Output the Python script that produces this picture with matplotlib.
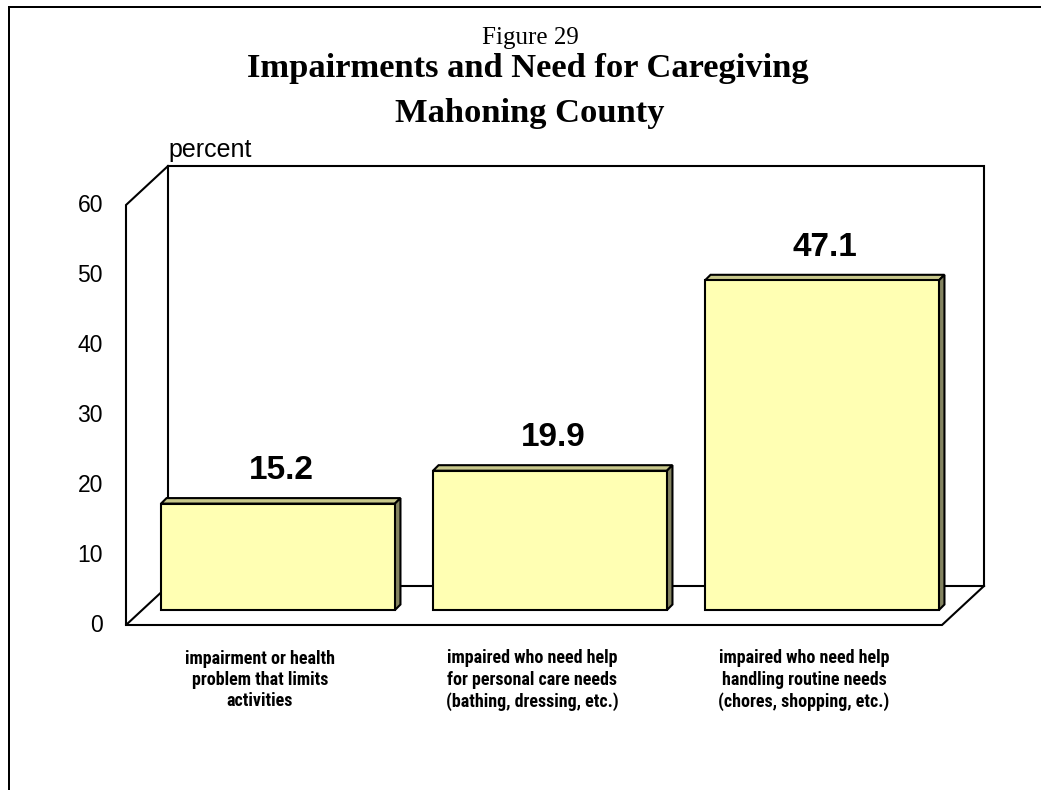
import matplotlib
matplotlib.use("Agg")
import matplotlib.pyplot as plt
from matplotlib.lines import Line2D
from matplotlib.patches import Polygon
from matplotlib import font_manager as fm

# ---- data ----
categories = [
    "impairment or health\nproblem that limits\nactivities",
    "impaired who need help\nfor personal care needs\n(bathing, dressing, etc.)",
    "impaired who need help\nhandling routine needs\n(chores, shopping, etc.)",
]
values = [15.2, 19.9, 47.1]
value_labels = ["15.2", "19.9", "47.1"]
yticks = [0, 10, 20, 30, 40, 50, 60]
title_small = "Figure 29"
title_main = "Impairments and Need for Caregiving\nMahoning County"
y_label = "percent"

# ---- style ----
W, H, DPI = 1041, 790, 100
FRONT = "#FFFFB3"
TOP = "#C8C88C"
SIDE = "#838360"
SANS = "Liberation Sans"
SERIF = "Liberation Serif"
LW = 1.5

# pick a narrow sans (like Arial Narrow) for the category labels
names = {f.name for f in fm.fontManager.ttflist}
prefs = [("Liberation Sans Narrow", 13.0), ("Arial Narrow", 13.0),
         ("Roboto Condensed", 13.0), ("Noto Sans Condensed", 12.5),
         ("Open Sans Condensed", 13.0), ("Noto Sans SemiCondensed", 12.0),
         ("Noto Sans ExtraCondensed", 14.0)]
cat_props = None
for nm, sz in prefs:
    if nm in names:
        cat_props = dict(family=nm, fontsize=sz, fontweight="bold", linespacing=1.3 * 13.0 / sz * 0.95)
        break
if cat_props is None:
    cat_props = dict(family=SANS, fontsize=11, linespacing=1.48, fontweight="bold")

fig = plt.figure(figsize=(W / DPI, H / DPI), dpi=DPI)
fig.patch.set_facecolor("white")

# axes = plane of the bar fronts (pixels: x 142..958, y 610..190 from top)
L, R, B, T = 142, 958, 610, 190
ax = fig.add_axes([L / W, 1 - B / H, (R - L) / W, (B - T) / H])
ax.set_xlim(0, 3)
ax.set_ylim(0, 60)
ax.axis("off")

sx = 3 / (R - L)   # data units per pixel (x)
sy = 60 / (B - T)  # data units per pixel (y)

def off(x, y, px, py):
    return x + px * sx, y + py * sy

FX, FY = -16, -15   # front plane offset (px)
BX, BY = 26, 24     # back wall offset (px)
D = 5.5             # bar depth (px)

line_kw = dict(color="black", lw=LW, clip_on=False, solid_joinstyle="miter",
               solid_capstyle="projecting", zorder=1)

# back wall
bw = [off(0, 0, BX, BY), off(0, 60, BX, BY), off(3, 60, BX, BY), off(3, 0, BX, BY), off(0, 0, BX, BY)]
ax.plot([p[0] for p in bw], [p[1] for p in bw], **line_kw)
# left side wall
lw_pts = [off(0, 60, BX, BY), off(0, 60, FX, FY), off(0, 0, FX, FY), off(0, 0, BX, BY)]
ax.plot([p[0] for p in lw_pts], [p[1] for p in lw_pts], **line_kw)
# floor front edge + right diagonal
fl = [off(0, 0, FX, FY), off(3, 0, FX, FY), off(3, 0, BX, BY)]
ax.plot([p[0] for p in fl], [p[1] for p in fl], **line_kw)

# bars
centers = [i + 0.5 for i in range(len(values))]
width = 0.86
ax.bar(centers, values, width=width, color=FRONT, edgecolor="black",
       linewidth=LW, zorder=4, clip_on=False)
for c, v in zip(centers, values):
    x0, x1 = c - width / 2, c + width / 2
    top = [(x0, v), (x1, v), off(x1, v, D, D), off(x0, v, D, D)]
    side = [(x1, 0), (x1, v), off(x1, v, D, D), off(x1, 0, D, D)]
    for pts, col in ((top, TOP), (side, SIDE)):
        ax.add_patch(Polygon(pts, closed=True, facecolor=col, edgecolor="black",
                             lw=LW, joinstyle="miter", zorder=3, clip_on=False))

# value labels
for c, v, t in zip(centers, values, value_labels):
    x, y = off(c, v, 3, 33)
    ax.text(x, y, t, ha="center", va="center", fontsize=24, fontweight="bold",
            family=SANS, zorder=5)

# y tick labels (front plane)
for t in yticks:
    x, y = off(0, t, FX - 23, FY)
    ax.text(x, y, str(t), ha="right", va="center", fontsize=16.5, family=SANS)

# y axis label
x, y = off(0, 60, BX, BY + 9)
ax.text(x, y, y_label, ha="left", va="baseline", fontsize=18, family=SANS)

# category labels
for c, lab in zip(centers, categories):
    x, y = off(c, 0, FX - 2, -70)
    ax.text(x, y, lab, ha="center", va="center", multialignment="center", **cat_props)

# titles
fig.text(530 / W, 1 - 44 / H, title_small, ha="center", va="baseline",
         fontsize=18, family=SERIF)
lines = title_main.split("\n")
fig.text(528 / W, 1 - 77 / H, lines[0], ha="center", va="baseline",
         fontsize=24.8, fontweight="bold", family=SERIF)
fig.text(530 / W, 1 - 122 / H, lines[1], ha="center", va="baseline",
         fontsize=24.8, fontweight="bold", family=SERIF)

# outer frame (left and top edges visible)
fig.add_artist(Line2D([9 / W, 9 / W, 1.01], [-0.01, 1 - 7 / H, 1 - 7 / H],
                      transform=fig.transFigure, color="black", lw=1.44,
                      solid_joinstyle="miter"))

fig.savefig("out.png", dpi=DPI, facecolor="white")
